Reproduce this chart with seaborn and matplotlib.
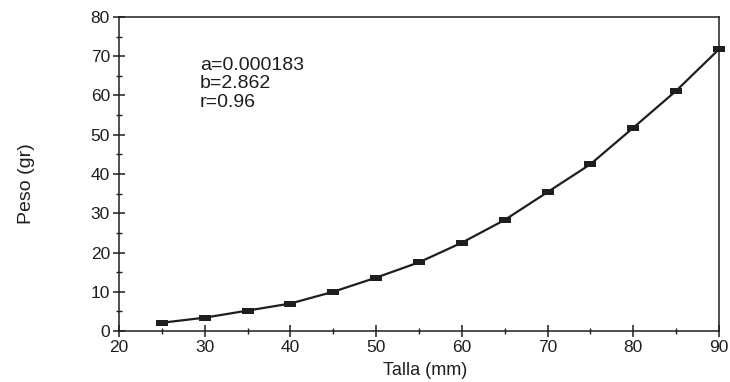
import matplotlib
matplotlib.use("Agg")
import matplotlib.pyplot as plt
from matplotlib.ticker import MultipleLocator
import seaborn as sns
import pandas as pd

# Length (mm) and weight (g)
talla = [25, 30, 35, 40, 45, 50, 55, 60, 65, 70, 75, 80, 85, 90]
peso = [2.1, 3.4, 5.2, 7.0, 10.0, 13.6, 17.5, 22.5, 28.3, 35.4, 42.5, 51.8, 61.2, 71.8]
x_ticks = [20, 30, 40, 50, 60, 70, 80, 90]
y_ticks = [0, 10, 20, 30, 40, 50, 60, 70, 80]
params = ["a=0.000183", "b=2.862", "r=0.96"]

sns.set_style("ticks")
plt.rcParams["font.family"] = ["Liberation Sans", "DejaVu Sans"]

df = pd.DataFrame({"Talla": talla, "Peso": peso})

fig = plt.figure(figsize=(7.30, 3.82), dpi=100)
ax = fig.add_axes([0.163, 0.1335, 0.822, 0.822])

ink = "#1e1e1e"
rect = [(-1, -0.5), (1, -0.5), (1, 0.5), (-1, 0.5), (-1, -0.5)]
sns.lineplot(data=df, x="Talla", y="Peso", ax=ax, color=ink, linewidth=1.6,
             marker=rect, markersize=9, markeredgewidth=0, markerfacecolor=ink,
             clip_on=False)

ax.set_xlim(20, 90)
ax.set_ylim(0, 80)
ax.set_xticks(x_ticks)
ax.set_yticks(y_ticks)
ax.xaxis.set_minor_locator(MultipleLocator(5))
ax.yaxis.set_minor_locator(MultipleLocator(5))
ax.tick_params(which="major", direction="inout", length=9, width=1.1,
               color=ink, labelsize=12.5, labelcolor=ink, pad=2)
ax.tick_params(which="minor", direction="inout", length=5, width=1.0, color=ink)

for s in ax.spines.values():
    s.set_visible(True)
    s.set_color(ink)
    s.set_linewidth(1.1)

ax.set_xlabel("Talla (mm)", fontsize=13, color=ink)
ax.set_ylabel("Peso (gr)", fontsize=14, color=ink)
ax.xaxis.set_label_coords(0.51, -0.098)
ax.yaxis.set_label_coords(-0.14, 0.468)

ax.text(0.135, 0.872, "\n".join(params), transform=ax.transAxes,
        fontsize=14, color=ink, va="top", ha="left", linespacing=1.1)

fig.savefig("out.png", dpi=100)
